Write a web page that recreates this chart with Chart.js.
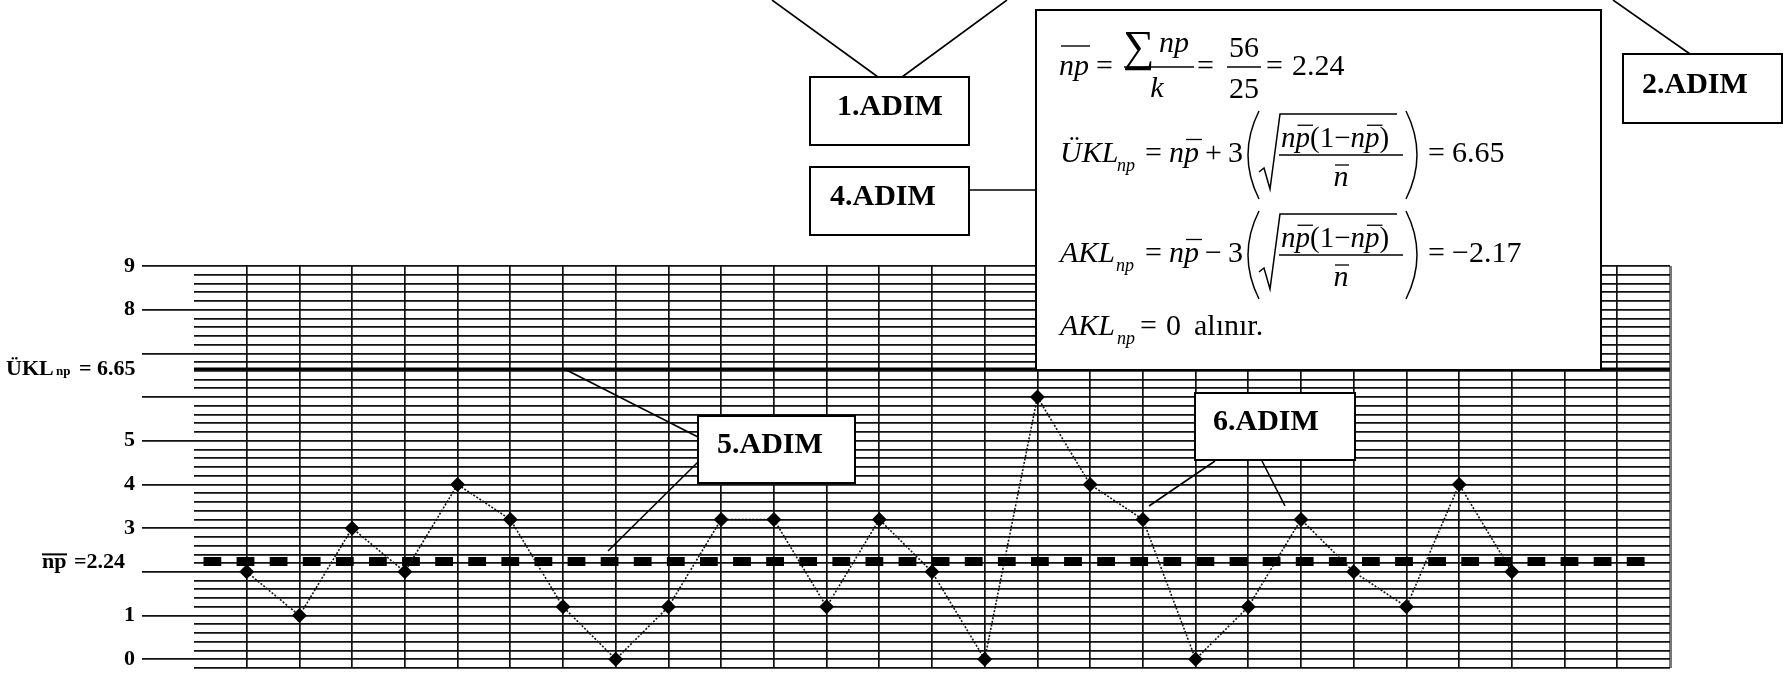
<!DOCTYPE html>
<html>
<head>
<meta charset="utf-8">
<script src="https://cdn.jsdelivr.net/npm/chart.js@4.4.1/dist/chart.umd.min.js"></script>
<style>
  html, body { margin: 0; padding: 0; background: #fff; }
</style>
</head>
<body>
<canvas id="npChart" width="1786" height="679"></canvas>
<script>
// np control chart, k = 25 samples
const sampleNo = [1, 2, 3, 4, 5, 6, 7, 8, 9, 10, 11, 12, 13, 14, 15, 16, 17, 18, 19, 20, 21, 22, 23, 24, 25];
const defectives = [2, 1, 3, 2, 4, 3.2, 1.2, 0, 1.2, 3.2, 3.2, 1.2, 3.2, 2, 0, 6, 4, 3.2, 0, 1.2, 3.2, 2, 1.2, 4, 2];
const yTickValues = [0, 1, 3, 4, 5, 8, 9];
const yTickLabels = ['0', '1', '3', '4', '5', '8', '9'];
const npMean = 2.24;
const uclValue = 6.65;
const stepLabels = ['1.ADIM', '2.ADIM', '4.ADIM', '5.ADIM', '6.ADIM'];

const SERIF = '"Liberation Serif", "Times New Roman", serif';
const isWhole = v => Math.abs(v - Math.round(v)) < 1e-6;

function seg(ctx, x1, y1, x2, y2, w) {
    ctx.lineWidth = w || 1.6;
    ctx.beginPath();
    ctx.moveTo(x1, y1);
    ctx.lineTo(x2, y2);
    ctx.stroke();
}

function txt(ctx, s, x, y, font, align) {
    ctx.font = font;
    ctx.textAlign = align || 'left';
    ctx.fillText(s, x, y);
    return ctx.measureText(s).width;
}

function stepBox(ctx, x, y, w, h, label, tx, ty) {
    ctx.fillStyle = '#fff';
    ctx.fillRect(x, y, w, h);
    ctx.lineWidth = 2;
    ctx.strokeRect(x, y, w, h);
    ctx.fillStyle = '#000';
    txt(ctx, label, tx, ty, 'bold 30px ' + SERIF);
}

// "np" with a bar over p
function npBarP(ctx, x, y, size) {
    const w1 = txt(ctx, 'n', x, y, 'italic ' + size + 'px ' + SERIF);
    const w2 = txt(ctx, 'p', x + w1, y, 'italic ' + size + 'px ' + SERIF);
    seg(ctx, x + w1 + 2, y - size * 0.75, x + w1 + w2 + 3, y - size * 0.75, 1.3);
    return w1 + w2;
}

function limitLine(ctx, y, name, subX, sign, result) {
    const it = 'italic 30px ' + SERIF, rm = '30px ' + SERIF;
    txt(ctx, name, 1060, y, it);
    txt(ctx, 'np', subX, y + 9, 'italic 18px ' + SERIF);
    txt(ctx, '=', 1145, y, rm);
    npBarP(ctx, 1169, y, 30);
    txt(ctx, sign, 1205, y, rm);
    txt(ctx, '3', 1228, y, rm);
    // parentheses
    ctx.lineWidth = 1.5;
    ctx.beginPath(); ctx.moveTo(1259, y - 51); ctx.quadraticCurveTo(1237, y - 7, 1259, y + 37); ctx.stroke();
    ctx.beginPath(); ctx.moveTo(1406, y - 51); ctx.quadraticCurveTo(1428, y - 7, 1406, y + 37); ctx.stroke();
    // radical
    ctx.beginPath();
    ctx.moveTo(1259, y + 10); ctx.lineTo(1264, y + 6); ctx.lineTo(1270, y + 27);
    ctx.lineTo(1280, y - 48); ctx.lineTo(1397, y - 48);
    ctx.stroke();
    // numerator n p(1 - n p)
    let x = 1281;
    const nb = y - 15;
    x += npBarP(ctx, x, nb, 29);
    x += txt(ctx, '(1\u2212', x, nb, '29px ' + SERIF);
    x += npBarP(ctx, x, nb, 29);
    txt(ctx, ')', x, nb, '29px ' + SERIF);
    seg(ctx, 1279, y - 7, 1403, y - 7, 1.4);
    txt(ctx, 'n', 1341, y + 24, it, 'center');
    seg(ctx, 1335, y + 3, 1349, y + 3, 1.3);
    txt(ctx, '=', 1428, y, rm);
    txt(ctx, result, 1452, y, rm);
}

const overlayPlugin = {
    id: 'overlay',
    afterDraw(chart) {
        const ctx = chart.ctx;
        const yS = chart.scales.y;
        ctx.save();
        ctx.strokeStyle = '#000';
        ctx.fillStyle = '#000';
        ctx.textBaseline = 'alphabetic';

        // left labels for UCL and mean
        const yU = yS.getPixelForValue(uclValue);
        txt(ctx, '\u00dcKL', 6, yU + 6, 'bold 22px ' + SERIF);
        txt(ctx, 'np', 56, yU + 6, 'bold 13px ' + SERIF);
        txt(ctx, '= 6.65', 79, yU + 6, 'bold 22px ' + SERIF);
        const yM = yS.getPixelForValue(npMean);
        txt(ctx, 'np', 42, yM + 7, 'bold 22px ' + SERIF);
        seg(ctx, 42, yM - 7, 67, yM - 7, 2);
        txt(ctx, '=2.24', 74, yM + 7, 'bold 22px ' + SERIF);

        // connector lines
        seg(ctx, 772, 0, 878, 77);
        seg(ctx, 1007, 0, 902, 77);
        seg(ctx, 1613, 0, 1690, 54);
        seg(ctx, 969, 190, 1036, 190);
        seg(ctx, 564, yU, 698, 437);
        seg(ctx, 698, 462, 608, 551);
        seg(ctx, 1215, 461, 1149, 506);
        seg(ctx, 1262, 461, 1285, 506);

        // step boxes
        stepBox(ctx, 810, 77, 159, 68, stepLabels[0], 837, 115);
        stepBox(ctx, 1623, 54, 159, 69, stepLabels[1], 1642, 93);
        stepBox(ctx, 810, 167, 159, 68, stepLabels[2], 830, 205);
        stepBox(ctx, 698, 416, 157, 67, stepLabels[3], 717, 453);
        stepBox(ctx, 1195, 393, 160, 67, stepLabels[4], 1213, 430);

        // formula box
        ctx.fillStyle = '#fff';
        ctx.fillRect(1036, 10, 565, 360);
        ctx.lineWidth = 2;
        ctx.strokeRect(1036, 10, 565, 360);
        ctx.fillStyle = '#000';

        const it = 'italic 30px ' + SERIF, rm = '30px ' + SERIF;
        // np = sum np / k = 56 / 25 = 2.24
        seg(ctx, 1061, 46, 1090, 46, 1.4);
        txt(ctx, 'np', 1059, 75, it);
        txt(ctx, '=', 1096, 75, rm);
        txt(ctx, '\u2211', 1123, 61, '44px ' + SERIF);
        txt(ctx, 'np', 1159, 52, it);
        seg(ctx, 1124, 67, 1194, 67, 1.4);
        txt(ctx, 'k', 1157, 97, it, 'center');
        txt(ctx, '=', 1197, 75, rm);
        txt(ctx, '56', 1244, 57, rm, 'center');
        seg(ctx, 1227, 67, 1261, 67, 1.4);
        txt(ctx, '25', 1244, 98, rm, 'center');
        txt(ctx, '=', 1266, 75, rm);
        txt(ctx, '2.24', 1292, 75, rm);

        limitLine(ctx, 162, '\u00dcKL', 1117, '+', '6.65');
        limitLine(ctx, 262, 'AKL', 1116, '\u2212', '\u22122.17');

        txt(ctx, 'AKL', 1060, 335, it);
        txt(ctx, 'np', 1117, 344, 'italic 18px ' + SERIF);
        txt(ctx, '=', 1140, 335, rm);
        txt(ctx, '0', 1166, 335, rm);
        txt(ctx, 'al\u0131n\u0131r.', 1194, 335, rm);
        ctx.restore();
    }
};

const points = sampleNo.map((x, i) => ({ x: x, y: defectives[i] }));

new Chart(document.getElementById('npChart'), {
    type: 'line',
    data: {
        datasets: [
            {
                data: points,
                borderColor: '#111',
                borderWidth: 1.6,
                borderDash: [2, 1.6],
                pointStyle: 'rectRot',
                pointRadius: 7.5,
                pointBackgroundColor: '#000',
                pointBorderColor: '#000',
                pointBorderWidth: 0,
                tension: 0
            },
            {
                data: [{ x: 0.18, y: npMean }, { x: 27.52, y: npMean }],
                borderColor: '#000',
                borderWidth: 9,
                borderDash: [17.8, 15.3],
                pointRadius: 0
            },
            {
                data: [{ x: 0, y: uclValue }, { x: 28, y: uclValue }],
                borderColor: '#000',
                borderWidth: 2.6,
                pointRadius: 0
            }
        ]
    },
    options: {
        responsive: false,
        animation: false,
        devicePixelRatio: 1,
        layout: { padding: { left: 0, top: 266, right: 116, bottom: 11 } },
        scales: {
            x: {
                type: 'linear',
                min: 0,
                max: 28,
                ticks: { display: false, stepSize: 1, autoSkip: false },
                grid: {
                    drawTicks: false,
                    color: c => !c.tick ? '#111' : (c.tick.value === 0 ? 'rgba(0,0,0,0)' : (c.tick.value === 28 ? '#777' : '#111')),
                    lineWidth: c => (c.tick && c.tick.value === 28) ? 3 : 1.7
                },
                border: { display: false }
            },
            y: {
                type: 'linear',
                min: -0.2,
                max: 9,
                afterFit: s => { s.width = 194; s.paddingTop = 0; s.paddingBottom = 0; },
                ticks: {
                    stepSize: 0.2,
                    autoSkip: false,
                    padding: 7,
                    color: '#000',
                    font: { family: 'Liberation Serif', weight: 'bold', size: 22 },
                    callback: v => {
                        const i = yTickValues.findIndex(t => Math.abs(t - v) < 1e-6);
                        return i >= 0 ? yTickLabels[i] : '';
                    }
                },
                grid: {
                    color: '#111',
                    lineWidth: 1.7,
                    tickLength: 52,
                    tickWidth: 1.7,
                    tickColor: c => (c.tick && isWhole(c.tick.value)) ? '#111' : 'rgba(0,0,0,0)'
                },
                border: { display: false }
            }
        },
        plugins: {
            legend: { display: false },
            tooltip: { enabled: false }
        }
    },
    plugins: [overlayPlugin]
});
</script>
</body>
</html>
